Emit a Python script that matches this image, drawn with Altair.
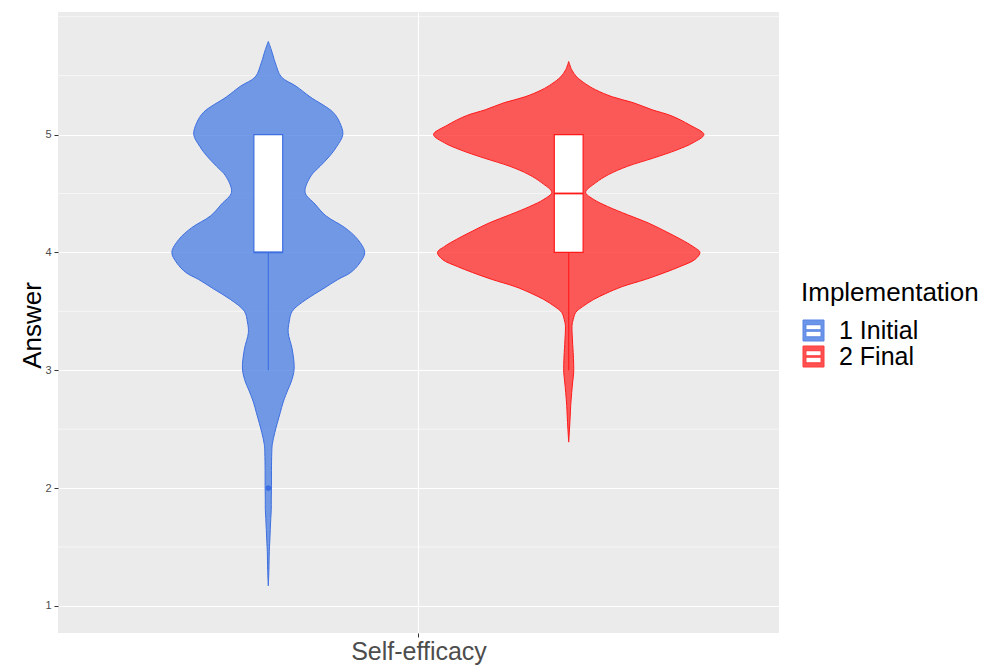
import altair as alt
import pandas as pd

# ---------------- data ----------------
category = "Self-efficacy"
groups = ["1 Initial", "2 Final"]
group_pos = [0.75, 1.25]          # dodged positions around the single category at x=1
fill_colors = ["#5183E4", "#FF3333"]
line_colors = ["#3E6FE0", "#FF1A1A"]

# violin profiles: answer value and relative density
initial_y = [5.79, 5.72, 5.61, 5.49, 5.41, 5.32, 5.19, 5.10, 5.00, 4.90, 4.82, 4.73,
             4.65, 4.51, 4.41, 4.31, 4.21, 4.11, 4.00, 3.91, 3.83, 3.77, 3.69, 3.60,
             3.50, 3.41, 3.32, 3.18, 3.01, 2.90, 2.84, 2.73, 2.64, 2.55, 2.47, 2.37,
             2.30, 2.15, 2.02, 1.90, 1.82, 1.74, 1.65, 1.55, 1.46, 1.30, 1.17]
initial_density = [0, 3, 7, 13, 28, 42, 65, 72, 75, 69, 62, 52,
                   43, 37, 47, 58, 77, 90, 97, 92, 83, 70, 55, 38,
                   24, 21, 20, 24, 26, 23, 20, 15, 12, 9, 6.5, 4,
                   3.5, 3.2, 3.2, 3, 3, 2.5, 2, 1.5, 1, 0.6, 0]

final_y = [5.62, 5.55, 5.49, 5.43, 5.38, 5.32, 5.27, 5.21, 5.16, 5.08, 5.00, 4.93,
           4.87, 4.80, 4.73, 4.66, 4.59, 4.51, 4.45, 4.39, 4.32, 4.25, 4.18, 4.11,
           4.05, 4.00, 3.94, 3.88, 3.83, 3.77, 3.71, 3.65, 3.60, 3.54, 3.49, 3.43,
           3.38, 3.30, 3.22, 3.15, 3.05, 2.98, 2.90, 2.81, 2.70, 2.61, 2.50, 2.39]
final_density = [0, 3, 8, 17, 27, 44, 65, 84, 103, 122, 136, 125,
                 109, 85, 59, 40, 27, 17, 25, 39, 59, 80, 97, 113,
                 125, 132, 127, 112, 97, 77, 54, 37, 25, 14, 7, 4.5,
                 3.3, 3.5, 4, 4.5, 5, 5, 4, 3, 2, 1.5, 0.8, 0]

# boxplot statistics
q1 = [4.0, 4.0]
median = [4.0, 4.5]
q3 = [5.0, 5.0]
whisker_low = [3.0, 3.0]
whisker_high = [5.0, 5.0]
outlier_group = ["1 Initial"]
outlier_value = [2.0]

y_major = [1, 2, 3, 4, 5]
y_minor = [1.5, 2.5, 3.5, 4.5, 5.5, 6.0]

# ---------------- build tables ----------------
VIOLIN_HALF = 0.225   # half of dodge width (0.9 / 2 groups)
BOX_HALF = 0.024

rows = []
dmax = max(max(initial_density), max(final_density))
for g, p, ys, ds in [(groups[0], group_pos[0], initial_y, initial_density),
                     (groups[1], group_pos[1], final_y, final_density)]:
    for y, d in zip(ys, ds):
        h = VIOLIN_HALF * d / dmax
        rows.append({"group": g, "y": y, "xl": p - h, "xr": p + h})
violin_df = pd.DataFrame(rows).sort_values(["group", "y"])

box_df = pd.DataFrame({
    "group": groups, "pos": group_pos, "q1": q1, "median": median, "q3": q3,
    "lo": whisker_low, "hi": whisker_high,
})
box_df["bl"] = box_df["pos"] - BOX_HALF
box_df["br"] = box_df["pos"] + BOX_HALF

out_df = pd.DataFrame({"group": outlier_group, "value": outlier_value})
out_df["pos"] = out_df["group"].map(dict(zip(groups, group_pos)))

minor_df = pd.DataFrame({"v": y_minor})

# ---------------- scales / axes ----------------
FONT = "Liberation Sans"
xscale = alt.Scale(domain=[0.4, 1.6], nice=False, zero=False)
yscale = alt.Scale(domain=[0.77, 6.04], nice=False, zero=False)

x_axis = alt.Axis(values=[1], labelExpr=f"'{category}'", grid=True, gridColor="white",
                  gridWidth=1.1, domain=False, tickColor="#333333", tickSize=4,
                  labelFontSize=25, labelColor="#4D4D4D", labelPadding=2,
                  labelFlush=False, labelFont=FONT)
y_axis = alt.Axis(values=y_major, format="d", grid=True, gridColor="white", gridWidth=1.1,
                  domain=False, tickColor="#333333", tickSize=4, labelFontSize=11,
                  labelColor="#4D4D4D", labelPadding=3, labelFont=FONT,
                  title="Answer", titleFontSize=26, titleFontWeight="normal",
                  titleColor="black", titleFont=FONT, titleAngle=270, titleX=-18,
                  titleY=313, titleAlign="center", titleBaseline="alphabetic")

legend_symbol = ("M-1,-1H1V1H-1Z"
                 "M-0.72,-0.55V-0.07H0.72V-0.55Z"
                 "M-0.72,0.07V0.6H0.72V0.07Z")
legend = alt.Legend(title="Implementation", orient="none", legendX=743, legendY=268,
                    titleFontSize=26, titleFontWeight="normal", titleColor="black",
                    titleFont=FONT, labelFont=FONT, labelFontSize=25, labelColor="black",
                    symbolType=legend_symbol, symbolSize=441, symbolStrokeWidth=1,
                    symbolOpacity=0.85, labelOffset=13, rowPadding=0, titlePadding=12,
                    padding=0)

fill_enc = alt.Fill("group:N", scale=alt.Scale(domain=groups, range=fill_colors), legend=legend)
stroke_enc = alt.Stroke("group:N", scale=alt.Scale(domain=groups, range=line_colors), legend=legend)

minor_grid = alt.Chart(minor_df).mark_rule(color="white", strokeWidth=0.6).encode(
    y=alt.Y("v:Q", scale=yscale, axis=y_axis)
)

violins = alt.Chart(violin_df).mark_area(
    orient="horizontal", interpolate="catmull-rom", fillOpacity=0.8, strokeWidth=1
).encode(
    y=alt.Y("y:Q", scale=yscale, axis=y_axis),
    x=alt.X("xl:Q", scale=xscale, axis=x_axis, title=None),
    x2="xr:Q",
    fill=fill_enc,
    stroke=stroke_enc,
)

whiskers = alt.Chart(box_df).mark_rule(strokeWidth=1.1).encode(
    x=alt.X("pos:Q", scale=xscale, axis=x_axis, title=None),
    y=alt.Y("lo:Q", scale=yscale, axis=y_axis),
    y2="q1:Q",
    stroke=stroke_enc,
)

boxes = alt.Chart(box_df).mark_rect(fill="white", strokeWidth=1.2).encode(
    x=alt.X("bl:Q", scale=xscale, axis=x_axis, title=None),
    x2="br:Q",
    y=alt.Y("q1:Q", scale=yscale, axis=y_axis),
    y2="q3:Q",
    stroke=stroke_enc,
)

medians = alt.Chart(box_df).mark_rule(strokeWidth=1.8).encode(
    x=alt.X("bl:Q", scale=xscale, axis=x_axis, title=None),
    x2="br:Q",
    y=alt.Y("median:Q", scale=yscale, axis=y_axis),
    stroke=stroke_enc,
)

outliers = alt.Chart(out_df).mark_circle(size=32, opacity=1).encode(
    x=alt.X("pos:Q", scale=xscale, axis=x_axis, title=None),
    y=alt.Y("value:Q", scale=yscale, axis=y_axis),
    color=alt.Color("group:N", scale=alt.Scale(domain=groups, range=line_colors), legend=None),
)

chart = alt.layer(minor_grid, violins, whiskers, boxes, medians, outliers).properties(
    width=721, height=621,
    autosize=alt.AutoSizeParams(type="none"),
    padding={"left": 50, "top": 4, "right": 205, "bottom": 35},
    background="white",
).configure_view(fill="#EBEBEB", strokeWidth=0)

chart.save("out.html", embed_options={"renderer": "svg", "actions": False})
